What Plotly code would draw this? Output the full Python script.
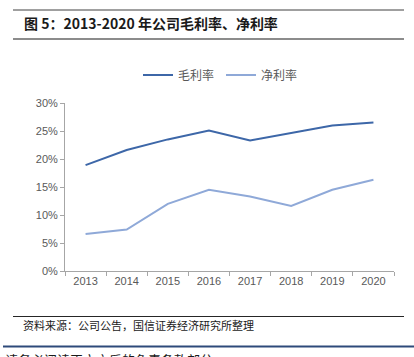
import plotly.graph_objects as go

years = ["2013", "2014", "2015", "2016", "2017", "2018", "2019", "2020"]
gross_margin = [18.9, 21.6, 23.5, 25.1, 23.3, 24.7, 26.0, 26.5]
net_margin = [6.6, 7.4, 12.0, 14.5, 13.3, 11.6, 14.5, 16.3]
y_ticks = [0, 5, 10, 15, 20, 25, 30]
y_tick_labels = [f"{v}%" for v in y_ticks]

W, H = 414, 357
L, R, T, B = 65, 20, 103, 86
pw, ph = W - L - R, H - T - B


def px(x):
    return (x - L) / pw


def py(y):
    return (H - B - y) / ph


fig = go.Figure()
fig.add_trace(go.Scatter(x=years, y=gross_margin, mode="lines", name="毛利率",
                         line=dict(color="#3D67A8", width=2)))
fig.add_trace(go.Scatter(x=years, y=net_margin, mode="lines", name="净利率",
                         line=dict(color="#8FA9D8", width=2)))

axis_col = "#A6A6A6"
fig.update_layout(
    width=W, height=H,
    margin=dict(l=L, r=R, t=T, b=B),
    paper_bgcolor="white", plot_bgcolor="white",
    font=dict(family="Liberation Sans, Noto Sans CJK SC", size=11, color="#595959"),
    showlegend=True,
    legend=dict(orientation="h", x=px(138), xanchor="left", y=py(75), yanchor="middle",
                font=dict(family="Noto Sans CJK SC", size=12, color="#595959"),
                itemwidth=30, traceorder="normal", entrywidth=38, entrywidthmode="pixels"),
    xaxis=dict(type="category", range=[-0.5, 7.5], showline=True, linecolor=axis_col,
               linewidth=1, ticks="outside", tickson="boundaries", ticklen=4,
               tickcolor=axis_col, showgrid=False, zeroline=False,
               tickfont=dict(size=11, color="#595959")),
    yaxis=dict(range=[0, 30], tickvals=y_ticks, ticktext=y_tick_labels, showline=True,
               linecolor=axis_col, linewidth=1, ticks="outside", ticklen=4,
               tickcolor=axis_col, showgrid=False, zeroline=False,
               tickfont=dict(size=11, color="#595959")),
)

shapes = []
# top title rules
shapes.append(dict(type="line", xref="paper", yref="paper", x0=px(13), x1=px(404),
                   y0=py(10), y1=py(10), line=dict(color="#404040", width=1)))
shapes.append(dict(type="line", xref="paper", yref="paper", x0=px(13), x1=px(404),
                   y0=py(39), y1=py(39), line=dict(color="#8C8C8C", width=2)))
# footer rules
shapes.append(dict(type="line", xref="paper", yref="paper", x0=px(13), x1=px(404),
                   y0=py(316.5), y1=py(316.5), line=dict(color="#262626", width=1)))
shapes.append(dict(type="line", xref="paper", yref="paper", x0=px(3), x1=px(414),
                   y0=py(346.5), y1=py(346.5), line=dict(color="#2E4A7A", width=2)))
fig.update_layout(shapes=shapes)

fig.add_annotation(text="<b>图 5：2013-2020 年公司毛利率、净利率</b>", xref="paper", yref="paper",
                   x=px(22), y=py(23), xanchor="left", yanchor="middle", showarrow=False,
                   font=dict(family="Noto Sans CJK SC", size=14, color="#1A1A1A"))
fig.add_annotation(text="资料来源：公司公告，国信证券经济研究所整理", xref="paper", yref="paper",
                   x=px(21), y=py(324.5), xanchor="left", yanchor="middle", showarrow=False,
                   font=dict(family="Noto Sans CJK SC", size=11, color="#1A1A1A"))
fig.add_annotation(text="请务必阅读正文之后的免责条款部分", xref="paper", yref="paper",
                   x=px(3), y=py(348), xanchor="left", yanchor="top", showarrow=False,
                   font=dict(family="Noto Sans CJK SC", size=13, color="#1A1A1A"))

fig.write_html("out.html", config={"displayModeBar": False},
               post_script="document.body.style.margin='0';document.body.style.padding='0';")
